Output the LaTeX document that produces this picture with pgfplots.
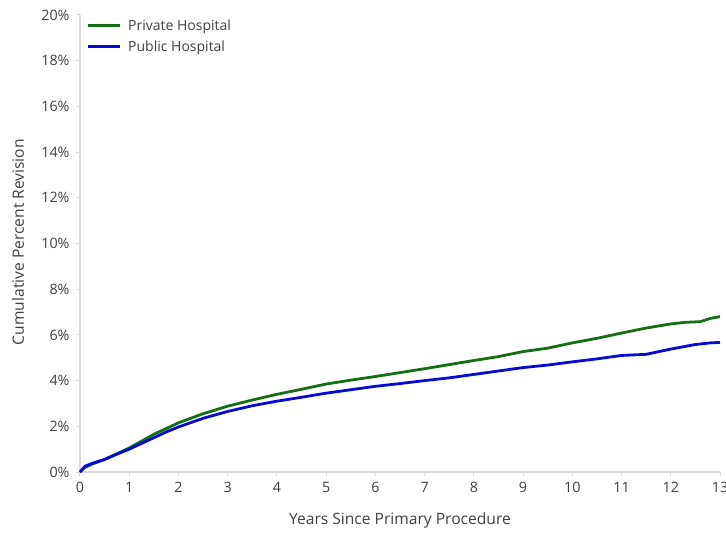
\documentclass[border=0pt]{standalone}
\usepackage{pgfplots}
\pgfplotsset{compat=1.18}
\usepackage{fontspec}
\setmainfont{Open Sans}
\definecolor{privgreen}{RGB}{20,110,20}
\definecolor{pubblue}{RGB}{10,10,210}
\definecolor{axgray}{RGB}{217,217,217}
\definecolor{txt}{RGB}{64,64,64}

\begin{document}
\begin{tikzpicture}
\useasboundingbox (-80pt,-61pt) rectangle (646pt,472pt);
\begin{axis}[
    scale only axis,
    width=640pt, height=457pt,
    xmin=0, xmax=13, ymin=0, ymax=20,
    xtick={0,1,...,13},
    ytick={0,2,...,20},
    yticklabel={\pgfmathprintnumber{\tick}\%},
    axis x line*=bottom, axis y line*=left,
    axis line style={draw=axgray, line width=1.2pt, -},
    tick style={draw=axgray, line width=1pt},
    tick align=outside, major tick length=4pt,
    ticklabel style={font=\fontsize{14.3}{16}\selectfont, text=txt},
    /pgf/number format/assume math mode=true,
    xticklabel style={yshift=-3pt},
    yticklabel style={xshift=-3pt},
    xlabel={Years Since Primary Procedure},
    ylabel={Cumulative Percent Revision},
    every axis x label/.style={at={(axis description cs:0.5,-0.105)}, anchor=center,
        font=\fontsize{15.6}{18}\selectfont, text=txt},
    every axis y label/.style={at={(axis description cs:-0.097,0.503)}, anchor=center, rotate=90,
        font=\fontsize{15.6}{18}\selectfont, text=txt},
    legend style={draw=none, fill=none, at={(axis description cs:0.005,0.999)}, anchor=north west,
        font=\fontsize{14}{16}\selectfont, text=txt, row sep=5pt,
        nodes={inner xsep=7pt}},
    legend cell align=left,
    legend image code/.code={\draw[#1] (0pt,0pt) -- (32pt,0pt);},
    clip=false,
]
\addplot[privgreen, line width=2.8pt] coordinates {
(0,0) (0.1,0.2) (0.25,0.35) (0.5,0.55) (0.75,0.8) (1,1.05) (1.25,1.35) (1.5,1.65)
(1.75,1.9) (2,2.15) (2.5,2.55) (3,2.88) (3.5,3.15) (4,3.4) (4.5,3.62) (5,3.85)
(5.5,4.02) (6,4.18) (6.5,4.35) (7,4.52) (7.5,4.7) (8,4.88) (8.5,5.05) (9,5.27)
(9.5,5.42) (10,5.65) (10.5,5.85) (11,6.08) (11.5,6.3) (12,6.48) (12.3,6.55)
(12.6,6.58) (12.8,6.72) (13,6.8)
};
\addlegendentry{Private Hospital}
\addplot[pubblue, line width=2.8pt] coordinates {
(0,0) (0.1,0.25) (0.25,0.38) (0.5,0.55) (0.75,0.78) (1,1.0) (1.25,1.25) (1.5,1.5)
(1.75,1.75) (2,1.97) (2.5,2.35) (3,2.65) (3.5,2.9) (4,3.1) (4.5,3.27) (5,3.45)
(5.5,3.6) (6,3.75) (6.5,3.87) (7,4.0) (7.5,4.12) (8,4.27) (8.5,4.42) (9,4.57)
(9.5,4.68) (10,4.82) (10.5,4.95) (11,5.1) (11.5,5.15) (12,5.38) (12.5,5.58)
(12.8,5.65) (13,5.67)
};
\addlegendentry{Public Hospital}
\end{axis}
\end{tikzpicture}
\end{document}
